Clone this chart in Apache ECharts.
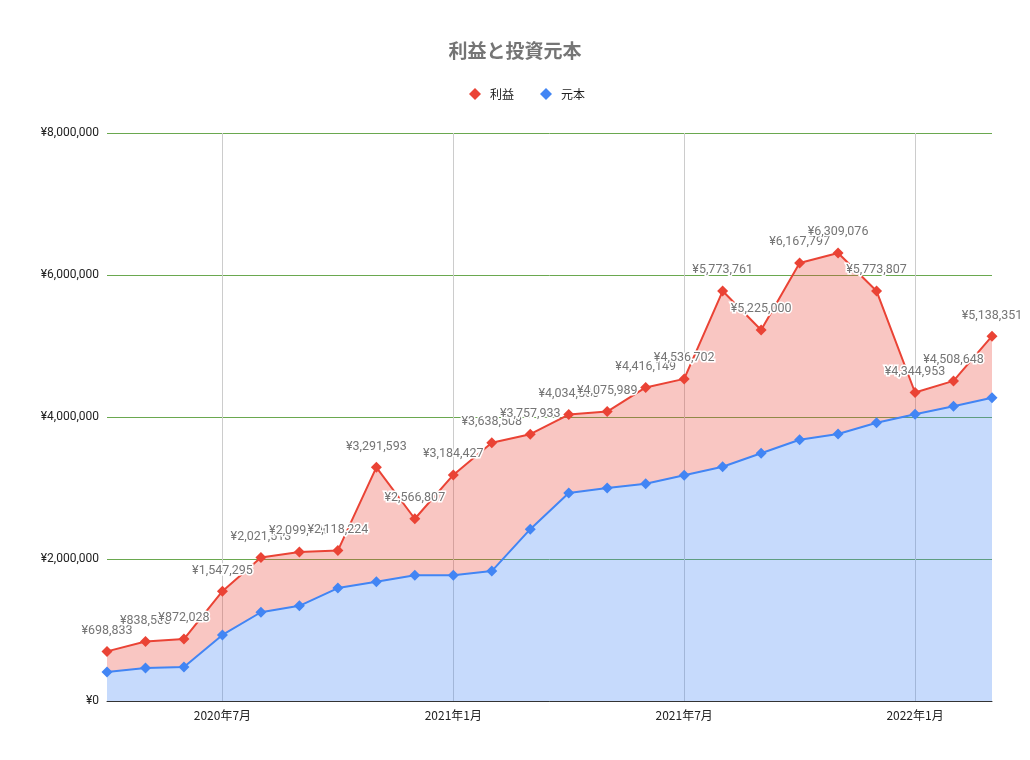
<!DOCTYPE html>
<html><head><meta charset="utf-8">
<script src="https://cdn.jsdelivr.net/npm/echarts@6/dist/echarts.min.js"></script>
<style>html,body{margin:0;padding:0;background:#fff}#c{width:1030px;height:760px}</style>
</head><body><div id="c"></div>
<script>
const months = ['2020年4月','2020年5月','2020年6月','2020年7月','2020年8月','2020年9月','2020年10月','2020年11月','2020年12月',
'2021年1月','2021年2月','2021年3月','2021年4月','2021年5月','2021年6月','2021年7月','2021年8月','2021年9月','2021年10月','2021年11月','2021年12月',
'2022年1月','2022年2月','2022年3月'];
const profit = [698833,838500,872028,1547295,2021513,2099100,2118224,3291593,2566807,3184427,3638508,3757933,4034500,4075989,4416149,4536702,5773761,5225000,6167797,6309076,5773807,4344953,4508648,5138351];
const principal = [408000,465000,480000,930000,1250000,1340000,1590000,1680000,1770000,1770000,1830000,2420000,2930000,3000000,3060000,3180000,3300000,3490000,3680000,3760000,3920000,4040000,4150000,4270000];
const shownMonths = ['2020年7月','2021年1月','2021年7月','2022年1月'];
const yTicks = [0,2000000,4000000,6000000,8000000];

const yen = v => '¥' + Math.round(v).toLocaleString('en-US');
const showIdx = (i) => shownMonths.indexOf(months[i]) >= 0;
const gap = profit.map((p,i) => p - principal[i]);
const font = 'Roboto, "Noto Sans CJK JP", sans-serif';

const chart = echarts.init(document.getElementById('c'), null, {renderer:'canvas'});
chart.setOption({
  animation:false,
  textStyle:{fontFamily:font},
  title:{text:'利益と投資元本', left:'center', top:36,
    textStyle:{fontSize:19, fontWeight:'bold', color:'#757575', fontFamily:'"Noto Sans CJK JP", sans-serif'}},
  legend:{top:83, left:464, itemWidth:12, itemHeight:12, itemGap:26,
    data:[{name:'利益',icon:'diamond'},{name:'元本',icon:'diamond'}],
    textStyle:{fontSize:12, color:'#222', fontFamily:'"Noto Sans CJK JP", sans-serif', padding:[0,0,0,4]}},
  grid:{left:107, right:38, top:133, bottom:59, containLabel:false},
  xAxis:{type:'category', data:months, boundaryGap:false,
    axisLine:{show:true, lineStyle:{color:'#333', width:1}},
    axisTick:{show:false},
    axisLabel:{interval:(i)=>showIdx(i), color:'#222', fontSize:12, margin:8, fontFamily:'"Noto Sans CJK JP", sans-serif'},
    splitLine:{show:true, interval:(i)=>showIdx(i), lineStyle:{color:'#cccccc', width:1}}},
  yAxis:{type:'value', min:yTicks[0], max:yTicks[yTicks.length-1], interval:yTicks[1]-yTicks[0],
    axisLine:{show:false}, axisTick:{show:false},
    axisLabel:{formatter:yen, color:'#222', fontSize:12, margin:8},
    splitLine:{show:true, lineStyle:{color:'#6aa84f', width:1}}},
  series:[
    {name:'元本', type:'line', stack:'s', data:principal,
     symbol:'diamond', symbolSize:11, showAllSymbol:true,
     lineStyle:{color:'#4285f4', width:2}, itemStyle:{color:'#4285f4'},
     areaStyle:{color:'#4285f4', opacity:0.3}},
    {name:'利益', type:'line', stack:'s', data:gap,
     symbol:'diamond', symbolSize:11, showAllSymbol:true,
     lineStyle:{color:'#ea4335', width:2}, itemStyle:{color:'#ea4335'},
     areaStyle:{color:'#ea4335', opacity:0.3},
     label:{show:true, position:'top', distance:9, formatter:(p)=>yen(profit[p.dataIndex]),
       color:'#757575', fontSize:12.5, textBorderColor:'#fff', textBorderWidth:3, fontFamily:font}}
  ]
});
</script></body></html>
